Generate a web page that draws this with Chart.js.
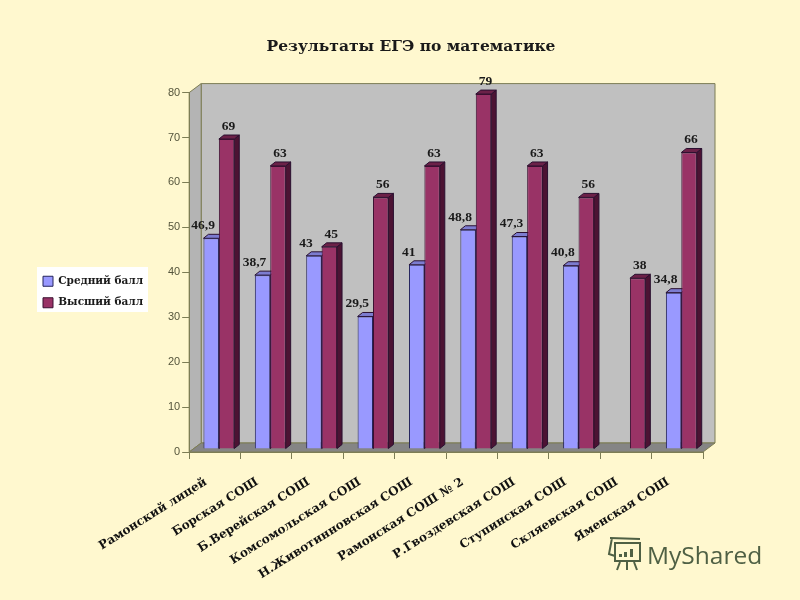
<!DOCTYPE html>
<html>
<head>
<meta charset="utf-8">
<style>
  html, body { margin: 0; background: #fff8cf; }
  canvas { display: block; }
</style>
<script src="https://cdn.jsdelivr.net/npm/chart.js@4"></script>
</head>
<body>
<canvas id="chart" width="800" height="600"></canvas>
<script>
const schools = ['Рамонский лицей', 'Борская СОШ', 'Б.Верейская СОШ', 'Комсомольская СОШ',
  'Н.Животинновская СОШ', 'Рамонская СОШ № 2', 'Р.Гвоздевская СОШ', 'Ступинская СОШ',
  'Скляевская СОШ', 'Яменская СОШ']
const avgScore = [46.9, 38.7, 43, 29.5, 41, 48.8, 47.3, 40.8, null, 34.8]
const maxScore = [69, 63, 45, 56, 63, 79, 63, 56, 38, 66]
const yTicks = [0, 10, 20, 30, 40, 50, 60, 70, 80]

const serifBold = '"DejaVu Serif"'
const axisColor = '#7d7d55'

// depth of the fake 3d box and of the bars
const wall = {dx: 12, dy: 9}
const bar = {dx: 5, dy: 4, shiftX: 4, shiftY: -3}

function poly(ctx, pts, fill, stroke) {
  ctx.beginPath()
  pts.forEach((p, i) => i ? ctx.lineTo(p[0], p[1]) : ctx.moveTo(p[0], p[1]))
  ctx.closePath()
  ctx.fillStyle = fill
  ctx.fill()
  if (stroke) {
    ctx.strokeStyle = stroke
    ctx.lineWidth = 1
    ctx.stroke()
  }
}

const box3d = {
  id: 'box3d',
  afterLayout(chart) {
    // title sits over the whole slide, legend a bit off the canvas middle
    chart.titleBlock.left += 43.5
    chart.titleBlock.right += 43.5
    chart.legend.top -= 8
    chart.legend.bottom -= 8
  },
  beforeDraw(chart) {
    const {ctx, chartArea: a} = chart
    const {dx, dy} = wall
    ctx.save()
    ctx.fillStyle = '#fff8cf'
    ctx.fillRect(0, 0, chart.width, chart.height)

    poly(ctx, [[a.left + dx, a.top - dy], [a.right + dx, a.top - dy], [a.right + dx, a.bottom - dy], [a.left + dx, a.bottom - dy]], '#c0c0c0', axisColor)
    poly(ctx, [[a.left, a.top], [a.left + dx, a.top - dy], [a.left + dx, a.bottom - dy], [a.left, a.bottom]], '#b4b4b4', axisColor)
    poly(ctx, [[a.left, a.bottom], [a.right, a.bottom], [a.right + dx, a.bottom - dy], [a.left + dx, a.bottom - dy]], '#858585', axisColor)

    // white box behind the legend
    ctx.fillStyle = '#ffffff'
    ctx.fillRect(37, 267, 111, 45)
    ctx.restore()
  },
  beforeDatasetsDraw(chart) {
    const {ctx} = chart
    ctx.save()
    ctx.translate(bar.shiftX, bar.shiftY)
    const faces = [['#5c5ca6', '#7c7cd0'], ['#4c1333', '#6c2148']]
    faces.forEach((c, i) => {
      chart.getDatasetMeta(i).data.forEach((el, j) => {
        if (chart.data.datasets[i].data[j] == null) return
        const x0 = el.x - el.width / 2, x1 = el.x + el.width / 2
        poly(ctx, [[x1, el.y], [x1 + bar.dx, el.y - bar.dy], [x1 + bar.dx, el.base - bar.dy], [x1, el.base]], c[0], '#2a1030')
        poly(ctx, [[x0, el.y], [x0 + bar.dx, el.y - bar.dy], [x1 + bar.dx, el.y - bar.dy], [x1, el.y]], c[1], '#2a1030')
      })
    })
  },
  afterDatasetsDraw(chart) {
    const {ctx} = chart
    // value labels, still shifted with the bars
    ctx.font = 'bold 13.5px "Liberation Serif"'
    ctx.fillStyle = '#1a1a1a'
    ctx.textAlign = 'center'
    ctx.textBaseline = 'bottom'
    chart.data.datasets.forEach((ds, i) => {
      chart.getDatasetMeta(i).data.forEach((el, j) => {
        const v = ds.data[j]
        if (v == null) return
        ctx.fillText(String(v).replace('.', ','), el.x + (i == 0 ? -8 : 2), el.y - 6)
      })
    })
    ctx.restore()
  },
  afterDraw(chart) {
    // MyShared watermark
    const {ctx} = chart
    const col = '#4f6044'
    ctx.save()
    ctx.strokeStyle = col
    ctx.fillStyle = col
    ctx.lineWidth = 2
    ctx.strokeRect(615, 543, 25, 18)
    ctx.beginPath()
    ctx.moveTo(610, 538); ctx.lineTo(640, 539)
    ctx.moveTo(612, 538); ctx.lineTo(609, 554); ctx.lineTo(615, 556)
    ctx.moveTo(620, 562); ctx.lineTo(617, 570)
    ctx.moveTo(627, 562); ctx.lineTo(627, 570)
    ctx.moveTo(634, 562); ctx.lineTo(637, 570)
    ctx.stroke()
    ctx.fillRect(619, 554, 3, 3)
    ctx.fillRect(624, 552, 3, 5)
    ctx.fillRect(630, 549, 3, 8)
    ctx.font = '24.5px "Open Sans"'
    ctx.textAlign = 'left'
    ctx.textBaseline = 'alphabetic'
    ctx.fillText('MyShared', 647, 564)
    ctx.restore()
  }
}

new Chart(document.getElementById('chart'), {
  type: 'bar',
  data: {
    labels: schools,
    datasets: [
      {label: 'Средний балл', data: avgScore, backgroundColor: '#9999ff', borderColor: '#24245c', borderWidth: 1},
      {label: 'Высший балл', data: maxScore, backgroundColor: '#993366', borderColor: '#3a1030', borderWidth: 1}
    ]
  },
  options: {
    responsive: false,
    animation: false,
    layout: {padding: {left: 32, right: 97, top: 0, bottom: 0}},
    datasets: {bar: {categoryPercentage: 0.6, barPercentage: 1}},
    plugins: {
      title: {
        display: true,
        text: 'Результаты ЕГЭ по математике',
        color: '#1a1a1a',
        font: {family: serifBold, size: 15.5, weight: 'bold'},
        padding: {top: 38, bottom: 36}
      },
      legend: {
        position: 'left',
        labels: {
          color: '#1a1a1a',
          font: {family: serifBold, size: 10.5, weight: 'bold'},
          boxWidth: 10,
          boxHeight: 10,
          padding: 11
        }
      },
      tooltip: {enabled: false}
    },
    scales: {
      x: {
        afterFit(scale) { scale.height = 148 },
        grid: {offset: true, drawOnChartArea: false, color: axisColor, tickLength: 7},
        border: {color: axisColor},
        ticks: {
          color: '#111111',
          font: {family: serifBold, size: 12, weight: 'bold'},
          maxRotation: 32,
          minRotation: 32,
          autoSkip: false,
          padding: 16,
          labelOffset: -9
        }
      },
      y: {
        min: 0,
        max: 80,
        afterBuildTicks(scale) { scale.ticks = yTicks.map(v => ({value: v})) },
        afterFit(scale) { scale.width = 36 },
        grid: {drawOnChartArea: false, color: axisColor, tickLength: 7},
        border: {color: axisColor},
        ticks: {color: '#55553c', font: {family: '"Liberation Sans"', size: 11}, padding: 2}
      }
    }
  },
  plugins: [box3d]
})
</script>
</body>
</html>
